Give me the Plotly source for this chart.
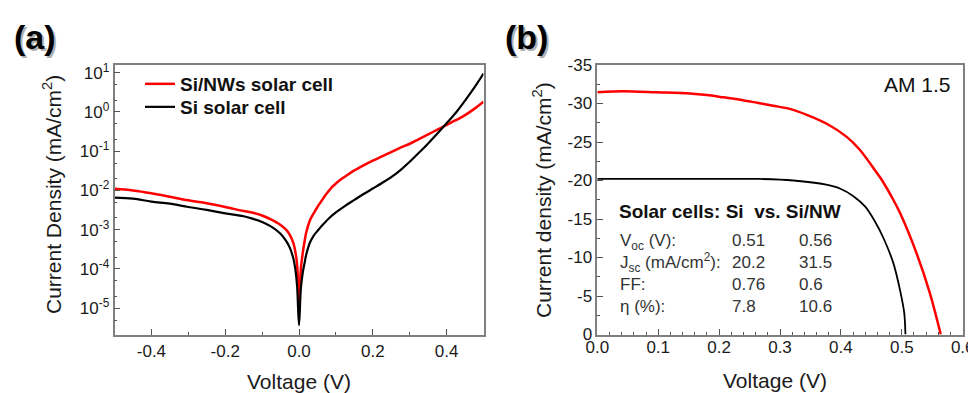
import plotly.graph_objects as go

# ---------------- Panel (a): dark J-V, log scale ----------------
v_nw = [-0.50, -0.45, -0.40, -0.35, -0.30, -0.25, -0.20, -0.15, -0.125, -0.10, -0.075, -0.05,
        -0.035, -0.025, -0.015, -0.01, -0.005, 0.0, 0.005, 0.01, 0.015, 0.02, 0.03, 0.04, 0.05,
        0.06, 0.07, 0.08, 0.09, 0.10, 0.115, 0.13, 0.15, 0.175, 0.20, 0.225, 0.25, 0.275,
        0.30, 0.325, 0.35, 0.375, 0.40, 0.425, 0.45, 0.475, 0.50]
j_nw = [0.0110, 0.0100, 0.0085, 0.0069, 0.0056, 0.0047, 0.0038, 0.0030, 0.0027, 0.0023,
        0.0018, 0.00132, 0.0010, 0.00074, 0.00045, 0.00028, 0.000126, 1.26e-5, 1.0e-4, 2.5e-4,
        5.0e-4, 8.9e-4, 1.78e-3, 2.63e-3, 3.8e-3, 5.25e-3, 7.24e-3, 9.55e-3, 0.0123, 0.0151,
        0.0195, 0.0245, 0.0324, 0.0437, 0.0575, 0.0741, 0.0955, 0.123, 0.155, 0.204, 0.269,
        0.355, 0.468, 0.617, 0.832, 1.20, 1.82]

v_si = [-0.50, -0.45, -0.40, -0.35, -0.30, -0.25, -0.20, -0.15, -0.125, -0.10, -0.075, -0.05,
        -0.035, -0.025, -0.015, -0.01, -0.005, 0.0, 0.005, 0.01, 0.015, 0.02, 0.03, 0.04, 0.05,
        0.06, 0.08, 0.10, 0.125, 0.15, 0.175, 0.20, 0.225, 0.25, 0.275, 0.30, 0.325, 0.35,
        0.375, 0.40, 0.425, 0.45, 0.475, 0.50]
j_si = [0.0066, 0.0062, 0.0052, 0.0046, 0.0038, 0.0032, 0.0026, 0.0022, 0.0019, 0.00158,
        0.0012, 0.00079, 0.00052, 0.00035, 0.00018, 0.0001, 3.5e-5, 3.7e-6, 3.16e-5, 7.9e-5,
        1.41e-4, 2.4e-4, 4.8e-4, 7.1e-4, 9.3e-4, 1.2e-3, 1.9e-3, 2.75e-3, 4.07e-3, 5.75e-3,
        8.1e-3, 0.0112, 0.0155, 0.0219, 0.0331, 0.0537, 0.0912, 0.158, 0.282, 0.513, 0.955,
        1.95, 4.17, 9.55]

xa_tick_vals = [-0.4, -0.2, 0.0, 0.2, 0.4]
xa_tick_text = ["-0.4", "-0.2", "0.0", "0.2", "0.4"]
log_tick_vals = [1e-5, 1e-4, 1e-3, 1e-2, 1e-1, 1e0, 1e1]
log_tick_text = ["10<sup>-5</sup>", "10<sup>-4</sup>", "10<sup>-3</sup>", "10<sup>-2</sup>",
                 "10<sup>-1</sup>", "10<sup>0</sup>", "10<sup>1</sup>"]

# ---------------- Panel (b): illuminated J-V ----------------
v_nw_b = [0.0, 0.043, 0.097, 0.152, 0.18, 0.207, 0.234, 0.262, 0.289, 0.316, 0.345, 0.376,
          0.409, 0.431, 0.459, 0.467, 0.486, 0.497, 0.524, 0.546, 0.564]
j_nw_b = [-31.46, -31.6, -31.46, -31.3, -31.1, -30.8, -30.5, -30.1, -29.7, -29.3, -28.5, -27.4,
          -25.7, -24.0, -21.0, -20.1, -17.5, -15.8, -10.6, -5.4, 0.0]

v_si_b = [0.0, 0.1, 0.2, 0.267, 0.322, 0.376, 0.40, 0.42, 0.44, 0.455, 0.47, 0.486, 0.497,
          0.504, 0.506]
j_si_b = [-20.2, -20.2, -20.2, -20.2, -20.0, -19.45, -18.9, -18.0, -16.6, -14.8, -12.5, -9.3,
          -5.8, -2.8, 0.0]

xb_tick_vals = [0.0, 0.1, 0.2, 0.3, 0.4, 0.5, 0.6]
xb_tick_text = ["0.0", "0.1", "0.2", "0.3", "0.4", "0.5", "0.6"]
yb_tick_vals = [-35, -30, -25, -20, -15, -10, -5, 0]
yb_tick_text = ["-35", "-30", "-25", "-20", "-15", "-10", "-5", "0"]

table_labels = ["V<sub>oc</sub> (V):", "J<sub>sc</sub> (mA/cm<sup>2</sup>):", "FF:", "η (%):"]
table_si = ["0.51", "20.2", "0.76", "7.8"]
table_nw = ["0.56", "31.5", "0.6", "10.6"]

FONT = "Liberation Sans, Arial, sans-serif"
# the page body has an 8 px margin; size the figure so it fills the rest of the window
OFF = 8
W, H = 976 - OFF, 393 - OFF


def px(x):
    return (x - OFF) / W


def py(y):
    return 1 - (y - OFF) / H


fig = go.Figure()
fig.add_trace(go.Scatter(x=v_nw, y=j_nw, mode="lines", name="Si/NWs solar cell",
                         line=dict(color="#ff0000", width=2.5, shape="spline", smoothing=1.0),
                         xaxis="x", yaxis="y", legend="legend"))
fig.add_trace(go.Scatter(x=v_si, y=j_si, mode="lines", name="Si solar cell",
                         line=dict(color="#000000", width=2.2, shape="spline", smoothing=1.0),
                         xaxis="x", yaxis="y", legend="legend2"))
fig.add_trace(go.Scatter(x=v_nw_b, y=j_nw_b, mode="lines", showlegend=False,
                         line=dict(color="#ff0000", width=2.5, shape="spline", smoothing=0.8),
                         xaxis="x2", yaxis="y2"))
fig.add_trace(go.Scatter(x=v_si_b, y=j_si_b, mode="lines", showlegend=False,
                         line=dict(color="#000000", width=1.8, shape="spline", smoothing=0.8),
                         xaxis="x2", yaxis="y2"))

axis_common = dict(showline=True, linecolor="#808080", linewidth=1.5, mirror=True,
                   ticks="inside", ticklen=6, tickwidth=1.2, tickcolor="#555555",
                   showgrid=False, zeroline=False,
                   tickfont=dict(family=FONT, size=17, color="#1a1a1a"))

legend_common = dict(xanchor="left", yanchor="middle", bgcolor="rgba(255,255,255,0)",
                     borderwidth=0, itemwidth=30,
                     font=dict(family=FONT, size=19, color="#111111", weight="bold"))

ydom = [py(334.5), py(65)]
fig.update_layout(
    width=W, height=H,
    margin=dict(l=0, r=0, t=0, b=0, pad=0, autoexpand=False),
    paper_bgcolor="white", plot_bgcolor="white",
    showlegend=True,
    legend=dict(legend_common, x=px(140), y=py(84)),
    legend2=dict(legend_common, x=px(140), y=py(107)),
    xaxis=dict(axis_common, domain=[px(114.5), px(483.5)], range=[-0.5, 0.5],
               tickvals=xa_tick_vals, ticktext=xa_tick_text,
               minor=dict(ticks="inside", ticklen=3, dtick=0.1, tickcolor="#555555"),
               anchor="y"),
    yaxis=dict(axis_common, domain=ydom, type="log", range=[-5.67, 1.197],
               tickvals=log_tick_vals, ticktext=log_tick_text,
               minor=dict(ticks="inside", ticklen=3, tickcolor="#555555"),
               anchor="x"),
    xaxis2=dict(axis_common, domain=[px(597.3), px(962.7)], range=[0, 0.6],
                tickvals=xb_tick_vals, ticktext=xb_tick_text, ticklabelstandoff=-4,
                minor=dict(ticks="inside", ticklen=3, dtick=0.02, tickcolor="#555555"),
                anchor="y2"),
    yaxis2=dict(axis_common, domain=ydom, range=[0, -35],
                tickvals=yb_tick_vals, ticktext=yb_tick_text,
                minor=dict(ticks="inside", ticklen=3, dtick=2.5, tickcolor="#555555"),
                anchor="x2"),
)

ann = []
# panel labels with soft shadow
for lab, x in [("(a)", 12), ("(b)", 503)]:
    ann.append(dict(text="<b>%s</b>" % lab, x=px(x + 2), y=py(39), xref="paper", yref="paper",
                    xanchor="left", yanchor="middle", showarrow=False,
                    font=dict(family=FONT, size=34, color="#b0b0b0")))
    ann.append(dict(text="<b>%s</b>" % lab, x=px(x), y=py(37), xref="paper", yref="paper",
                    xanchor="left", yanchor="middle", showarrow=False,
                    font=dict(family=FONT, size=34, color="#000000")))
# axis titles
title_font = dict(family=FONT, size=21, color="#1a1a1a")
ann.append(dict(text="Current Density (mA/cm<sup>2</sup>)", x=px(52), y=py(195), xref="paper",
                yref="paper", xanchor="center", yanchor="middle", textangle=-90,
                showarrow=False, font=title_font))
ann.append(dict(text="Voltage (V)", x=px(299), y=py(381), xref="paper", yref="paper",
                xanchor="center", yanchor="middle", showarrow=False, font=title_font))
ann.append(dict(text="Current density (mA/cm<sup>2</sup>)", x=px(542), y=py(200), xref="paper",
                yref="paper", xanchor="center", yanchor="middle", textangle=-90,
                showarrow=False, font=title_font))
ann.append(dict(text="Voltage (V)", x=px(775), y=py(380), xref="paper", yref="paper",
                xanchor="center", yanchor="middle", showarrow=False, font=title_font))
ann.append(dict(text="AM 1.5", x=px(953), y=py(84), xref="paper", yref="paper",
                xanchor="right", yanchor="middle", showarrow=False,
                font=dict(family=FONT, size=21, color="#111111")))
# table
ann.append(dict(text="<b>Solar cells: Si  vs. Si/NW</b>", x=px(617), y=py(212), xref="paper",
                yref="paper", xanchor="left", yanchor="middle", showarrow=False,
                font=dict(family=FONT, size=19, color="#111111")))
row_font = dict(family=FONT, size=17, color="#333333")
for col, xx in [(table_labels, 618), (table_si, 730), (table_nw, 797)]:
    ann.append(dict(text="<br>".join(col), x=px(xx), y=py(229), xref="paper", yref="paper",
                    xanchor="left", yanchor="top", align="left", showarrow=False,
                    font=row_font))
fig.update_layout(annotations=ann)

fig.write_html("out.html")
